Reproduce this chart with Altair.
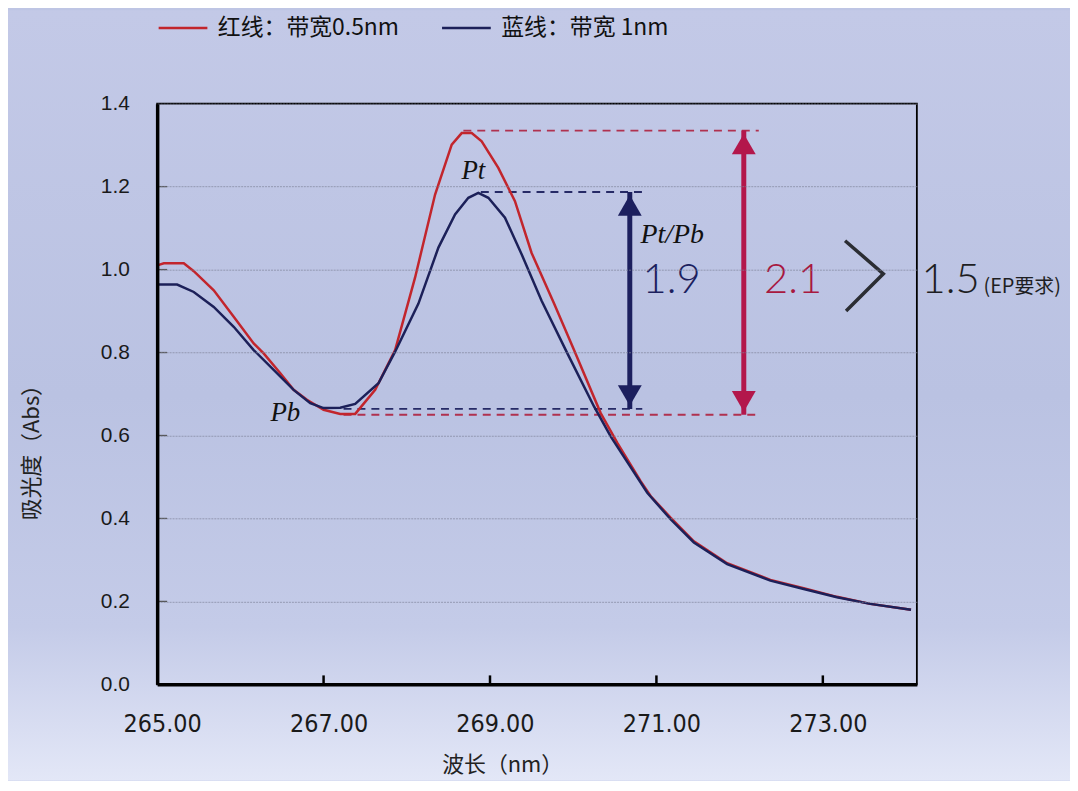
import altair as alt
import pandas as pd

# ---------------- data ----------------
red_label = "红线：带宽0.5nm"
blue_label = "蓝线：带宽 1nm"

red_wl = [265.00, 265.08, 265.32, 265.44, 265.68, 265.92, 266.16, 266.28, 266.48, 266.64,
          266.80, 267.00, 267.20, 267.38, 267.62, 267.86, 268.10, 268.34, 268.54, 268.66,
          268.78, 268.90, 269.10, 269.30, 269.50, 269.77, 270.01, 270.33, 270.53, 270.81,
          270.93, 271.17, 271.45, 271.85, 272.37, 272.77, 273.17, 273.57, 274.06]
red_abs = [1.010, 1.015, 1.015, 0.996, 0.950, 0.886, 0.822, 0.798, 0.750, 0.710,
           0.686, 0.662, 0.652, 0.652, 0.710, 0.806, 0.981, 1.181, 1.301, 1.329,
           1.329, 1.309, 1.245, 1.165, 1.040, 0.918, 0.806, 0.654, 0.582, 0.490,
           0.454, 0.402, 0.345, 0.292, 0.252, 0.232, 0.211, 0.194, 0.180]

blue_wl = [265.00, 265.24, 265.44, 265.68, 265.92, 266.16, 266.40, 266.64, 266.84, 267.00,
           267.20, 267.38, 267.66, 267.86, 268.14, 268.38, 268.58, 268.74, 268.86, 268.98,
           269.18, 269.38, 269.62, 269.93, 270.25, 270.45, 270.89, 271.17, 271.45, 271.85,
           272.37, 272.77, 273.17, 273.57, 274.06]
blue_abs = [0.964, 0.964, 0.946, 0.910, 0.862, 0.806, 0.758, 0.710, 0.678, 0.666,
            0.667, 0.676, 0.726, 0.802, 0.918, 1.053, 1.133, 1.173, 1.185, 1.173,
            1.125, 1.037, 0.925, 0.798, 0.670, 0.598, 0.462, 0.398, 0.342, 0.290,
            0.250, 0.230, 0.210, 0.194, 0.180]

x_tick_vals = [265, 267, 269, 271, 273]
y_tick_vals = [0.0, 0.2, 0.4, 0.6, 0.8, 1.0, 1.2, 1.4]

# reference levels (peak / valley) and arrows
red_top, red_bot = 1.335, 0.650
blue_top, blue_bot = 1.187, 0.664
dash_x1 = [268.68, 268.89, 267.24, 267.24]
dash_x2 = [272.23, 270.83, 270.83, 272.21]
dash_y = [red_top, blue_top, blue_bot, red_bot]
arrow_x = [270.68, 272.05]
arrow_top = [blue_top, red_top]
arrow_bot = [blue_bot, red_bot]

ratio_blue, ratio_red, ratio_ep = "1.9", "2.1", "1.5"

# chevron ">" between 2.1 and 1.5
chev_x = [273.267, 273.727, 273.279]
chev_y = [1.0695, 0.9897, 0.9000]

# ---------------- styles ----------------
RED = "#c2252c"
BLUE = "#1c2059"
ARROW_RED = "#b3174b"
ARROW_BLUE = "#1c1f5e"
DASH_RED = "#b0314f"
DASH_BLUE = "#262a66"
CJK = "Noto Sans CJK SC"
XDOM = [265, 274.13]
YDOM = [0, 1.4]
W, H = 764, 584

xs = alt.Scale(domain=XDOM, nice=False, zero=False)
ys = alt.Scale(domain=YDOM, nice=False, zero=False)

xaxis = alt.Axis(values=x_tick_vals, format=".2f", title="波长（nm）", grid=False,
                 ticks=False, tickSize=0, tickOffset=5, domainColor="black", domainWidth=3.5,
                 labelFont="Liberation Sans Narrow, DejaVu Sans Condensed, Roboto",
                 labelFontSize=25, labelColor="#1a1a1a", labelPadding=27,
                 labelFlush=False, labelOverlap=False, zindex=1,
                 titleFont=CJK, titleFontSize=22, titleFontWeight="normal", titleColor="#222",
                 titleX=347, titleY=81, titleBaseline="middle", titleAlign="center")
yaxis = alt.Axis(values=y_tick_vals, format=".1f", title="吸光度（Abs）", grid=True,
                 gridColor="#80859b", gridWidth=0.7, gridDash=[2, 1],
                 ticks=False, tickSize=0, domainColor="black", domainWidth=3.5,
                 labelFont="Liberation Sans, Arial", labelFontSize=21, labelColor="#1a1a1a",
                 labelPadding=28, labelFlush=False, labelOverlap=False, zindex=1,
                 titleFont=CJK, titleFontSize=22, titleFontWeight="normal", titleColor="#222",
                 titleX=-126, titleY=345, titleBaseline="middle", titleAlign="center",
                 titleAngle=270)


def X(f):
    return alt.X(f, type="quantitative", scale=xs, axis=xaxis)


def Y(f):
    return alt.Y(f, type="quantitative", scale=ys, axis=yaxis)


curves = pd.DataFrame({
    "wl": red_wl + blue_wl,
    "A": red_abs + blue_abs,
    "series": [red_label] * len(red_wl) + [blue_label] * len(blue_wl),
})

one = alt.Data(values=[{"a": 1}])

# background gradient
bg = alt.Chart(one).mark_rect(
    clip=False,
    fill={"gradient": "linear", "x1": 0, "y1": 0, "x2": 0, "y2": 1,
          "stops": [{"offset": 0, "color": "#c3c9e7"},
                    {"offset": 0.5, "color": "#bac2e2"},
                    {"offset": 0.8, "color": "#c4cbe8"},
                    {"offset": 1, "color": "#e3e7f7"}]},
).encode(x=alt.value(-150), x2=alt.value(W + 154), y=alt.value(-94), y2=alt.value(H + 97))

# plot frame (thin top / right)
frame = alt.Chart(one).mark_rect(filled=False, stroke="black", strokeWidth=1.8).encode(
    x=alt.value(0), x2=alt.value(W), y=alt.value(0), y2=alt.value(H))

lines = alt.Chart(curves).mark_line(strokeWidth=2.5, clip=True).encode(
    x=X("wl"),
    y=Y("A"),
    color=alt.Color("series:N",
                    scale=alt.Scale(domain=[red_label, blue_label], range=[RED, BLUE]),
                    legend=alt.Legend(orient="none", legendX=0, legendY=-102,
                                      direction="horizontal", title=None,
                                      symbolType="stroke", symbolSize=2401,
                                      symbolStrokeWidth=2.5, labelFont=CJK,
                                      labelFontSize=23, labelColor="#111", labelLimit=400,
                                      labelOffset=9, columnPadding=37, padding=0)),
    order=alt.Order("wl:Q"),
)

# inward tick marks
xt = pd.DataFrame({"x": x_tick_vals[1:], "y0": [0.0] * 4, "y1": [0.0216] * 4})
xticks = alt.Chart(xt).mark_rule(color="black", strokeWidth=2.5).encode(
    x=X("x"), y=Y("y0"), y2="y1:Q")
yt = pd.DataFrame({"y": y_tick_vals[1:-1], "x0": [265.0] * 6, "x1": [265.12] * 6})
yticks = alt.Chart(yt).mark_rule(color="#555", strokeWidth=1.3).encode(
    y=Y("y"), x=X("x0"), x2="x1:Q")

dash_df = pd.DataFrame({"x1": dash_x1, "x2": dash_x2, "y": dash_y,
                        "c": [DASH_RED, DASH_BLUE, DASH_BLUE, DASH_RED]})
dashes = alt.Chart(dash_df).mark_rule(strokeWidth=1.8, strokeDash=[8, 6]).encode(
    x=X("x1"), x2="x2:Q", y=Y("y"), stroke=alt.Stroke("c:N", scale=None))

arr_df = pd.DataFrame({"x": arrow_x, "top": arrow_top, "bot": arrow_bot,
                       "c": [ARROW_BLUE, ARROW_RED]})
shafts = alt.Chart(arr_df).mark_rule(strokeWidth=5).encode(
    x=X("x"), y=Y("top"), y2="bot:Q", stroke=alt.Stroke("c:N", scale=None))
heads_up = alt.Chart(arr_df).mark_point(shape="triangle-up", filled=True, size=576,
                                        opacity=1, strokeWidth=0, yOffset=13.5).encode(
    x=X("x"), y=Y("top"), fill=alt.Fill("c:N", scale=None))
heads_dn = alt.Chart(arr_df).mark_point(shape="triangle-down", filled=True, size=576,
                                        opacity=1, strokeWidth=0, yOffset=-13.5).encode(
    x=X("x"), y=Y("bot"), fill=alt.Fill("c:N", scale=None))

ital_df = pd.DataFrame({"x": [268.80, 266.54], "y": [1.2374, 0.6535], "t": ["Pt", "Pb"]})
ital = alt.Chart(ital_df).mark_text(font="Liberation Serif", fontStyle="italic", fontSize=27,
                                    color="#111", align="center", baseline="middle").encode(
    x=X("x"), y=Y("y"), text="t:N")

ptpb = alt.Chart(pd.DataFrame({"x": [270.808], "y": [1.084], "t": ["Pt/Pb"]})).mark_text(
    font="Liberation Serif", fontStyle="italic", fontSize=28, color="#111",
    align="left", baseline="middle").encode(x=X("x"), y=Y("y"), text="t:N")

big_df = pd.DataFrame({"x": [270.832, 272.293, 274.186], "y": [0.9424] * 3,
                       "t": [ratio_blue, ratio_red, ratio_ep],
                       "c": ["#1c1f5e", "#a8183f", "#1e1e22"]})
big = alt.Chart(big_df).mark_text(font="Lato", fontWeight=300, fontSize=42, align="left",
                                  baseline="alphabetic", clip=False).encode(
    x=X("x"), y=Y("y"), text="t:N", fill=alt.Fill("c:N", scale=None))

ep = alt.Chart(pd.DataFrame({"x": [274.93], "y": [0.9424], "t": ["(EP要求)"]})).mark_text(
    font=CJK, fontSize=20, color="#1e1e22", align="left", baseline="alphabetic",
    clip=False).encode(x=X("x"), y=Y("y"), text="t:N")

chev = alt.Chart(pd.DataFrame({"x": chev_x, "y": chev_y, "o": [0, 1, 2]})).mark_line(
    color="#2b2d33", strokeWidth=3.5, clip=False).encode(
    x=X("x"), y=Y("y"), order="o:Q")

chart = alt.layer(
    bg, frame, xticks, yticks, dashes, lines, shafts, heads_up, heads_dn, ital, ptpb, big, ep,
    chev
).properties(
    width=W, height=H,
    autosize=alt.AutoSizeParams(type="none"),
    padding={"left": 150, "top": 94, "right": 154, "bottom": 95},
    background="#bec5e4",
).configure_view(stroke="black", strokeWidth=2)

chart.save("out.html", embed_options={"renderer": "svg", "actions": False})
